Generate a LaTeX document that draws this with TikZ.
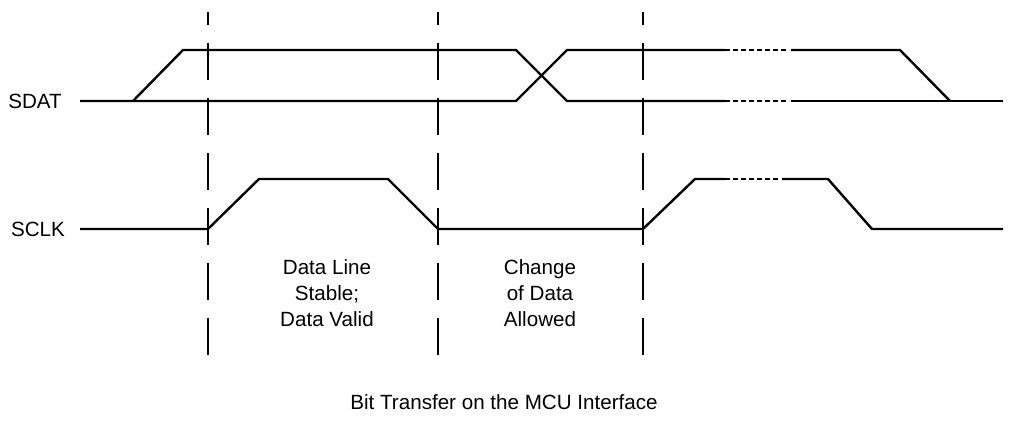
\documentclass[tikz,border=0pt]{standalone}
\usepackage{fontspec}
\setmainfont{Liberation Sans}
\usepackage{tikz}
\usetikzlibrary{positioning}

\begin{document}
\begin{tikzpicture}[
  x=0.5pt, y=-0.5pt,
  sigline/.style={line width=1.2pt},
  holdline/.style={line width=1.2pt, dash pattern=on 2.6pt off 1.4pt},
  guideline/.style={line width=1.2pt, dash pattern=on 18.5pt off 9pt, dash phase=12pt},
  label/.style={font=\fontsize{10.3}{13}\selectfont, align=center, inner sep=0pt}
]
\useasboundingbox (0,0) rectangle (1009,427);

% Signal names
\node[label] (sdat) at (35,101) {SDAT};
\node[label] (sclk) at (38,229) {SCLK};

% Bit boundaries
\foreach \x in {208,438,643}
  \draw[guideline] (\x,12) -- (\x,358);

% SDAT waveform
\draw[sigline] (80,101) -- (516,101) -- (567,50) -- (725,50);
\draw[sigline] (133,101) -- (183,50) -- (516,50) -- (567,101) -- (725,101);
\draw[holdline] (725,50) -- (789,50);
\draw[holdline] (725,101) -- (789,101);
\draw[sigline] (791,50) -- (900,50) -- (950,101);
\draw[sigline] (791,101) -- (1003,101);

% SCLK waveform
\draw[sigline] (80,229) -- (208,229) -- (259,179) -- (388,179) -- (438,229)
  -- (643,229) -- (695,179) -- (725,179);
\draw[holdline] (725,179) -- (780,179);
\draw[sigline] (782,179) -- (828,179) -- (872,229) -- (1003,229);

% Phase notes
\node[label] (stable) at (327,293) {Data Line\\Stable;\\Data Valid};
\node[label] (change) at (540,293) {Change\\of Data\\Allowed};

% Caption
\node[label] (caption) at (504,402) {Bit Transfer on the MCU Interface};

\end{tikzpicture}
\end{document}
